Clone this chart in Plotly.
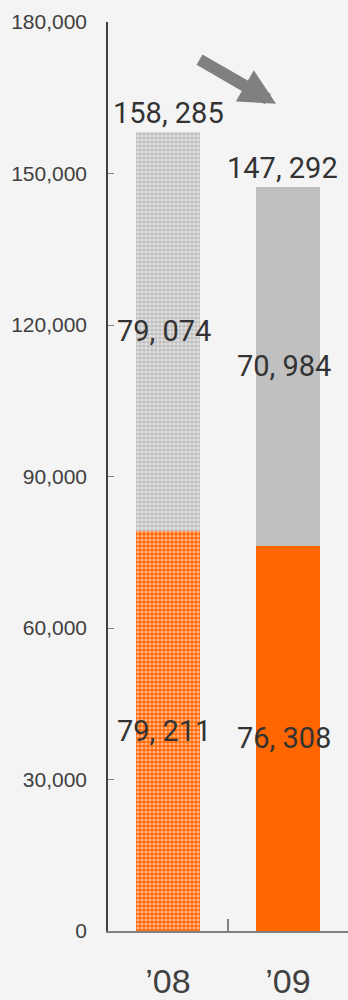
import plotly.graph_objects as go

categories = ["\u201908", "\u201909"]
orange_vals = [79211, 76308]
gray_vals = [79074, 70984]
totals = [158285, 147292]
y_ticks = [0, 30000, 60000, 90000, 120000, 150000, 180000]
y_tick_text = ["0", "30,000", "60,000", "90,000", "120,000", "150,000", "180,000"]

def fmt(v):
    return f"{v:,}".replace(",", ", ")

ORANGE = "#FF6600"
GRAY = "#C0C0C0"
BG = "#F4F4F4"
LABEL_FONT = dict(family="Roboto, Liberation Sans, sans-serif", size=29, color="#333333")

fig = go.Figure()

fig.add_trace(go.Bar(
    x=categories, y=orange_vals, width=0.54,
    marker=dict(color=ORANGE, line=dict(width=0),
                pattern=dict(shape=[".", ""], fgcolor="#FFFFFF", bgcolor=ORANGE,
                             size=4, solidity=0.5, fillmode="overlay")),
    showlegend=False, hoverinfo="skip"))
fig.add_trace(go.Bar(
    x=categories, y=gray_vals, width=0.54,
    marker=dict(color=GRAY, line=dict(width=0),
                pattern=dict(shape=[".", ""], fgcolor="#FFFFFF", bgcolor=GRAY,
                             size=4, solidity=0.5, fillmode="overlay")),
    showlegend=False, hoverinfo="skip"))

annotations = []
for i, c in enumerate(categories):
    annotations.append(dict(x=c, y=orange_vals[i] / 2, text=fmt(orange_vals[i]),
                            showarrow=False, font=LABEL_FONT, xshift=-4))
    annotations.append(dict(x=c, y=orange_vals[i] + gray_vals[i] / 2, text=fmt(gray_vals[i]),
                            showarrow=False, font=LABEL_FONT, xshift=-4))
    annotations.append(dict(x=c, y=totals[i], text=fmt(totals[i]), showarrow=False,
                            font=LABEL_FONT, yanchor="bottom", yshift=0,
                            xshift=0 if i == 0 else -6))

# decreasing trend arrow
annotations.append(dict(x=0.70, y=0.91, xref="paper", yref="paper",
                        ax=-78, ay=-45, axref="pixel", ayref="pixel",
                        showarrow=True, arrowhead=2, arrowsize=0.6, arrowwidth=12,
                        arrowcolor="#808080", text=""))

fig.update_layout(
    width=348, height=1000,
    margin=dict(l=108, r=0, t=22, b=69, autoexpand=False),
    paper_bgcolor=BG, plot_bgcolor=BG,
    barmode="stack", bargap=0,
    annotations=annotations,
    font=dict(family="Liberation Sans, Arial, sans-serif", color="#404040"),
    xaxis=dict(type="category", range=[-0.5, 1.5], showgrid=False, zeroline=False,
               automargin=False,
               showline=True, linecolor="#808080", linewidth=1.5,
               ticks="inside", tickson="boundaries", ticklen=12, tickcolor="#808080",
               tickwidth=1.5, ticklabelstandoff=19,
               tickfont=dict(size=34, color="#404040")),
    yaxis=dict(range=[0, 180000], tickvals=y_ticks, ticktext=y_tick_text,
               automargin=False,
               showgrid=False, zeroline=False, showline=True, linecolor="#404040",
               linewidth=1.5, ticks="inside", ticklen=6, tickcolor="#808080",
               ticklabelstandoff=15, tickfont=dict(size=21, color="#404040")),
)

fig.write_html("out.html")
